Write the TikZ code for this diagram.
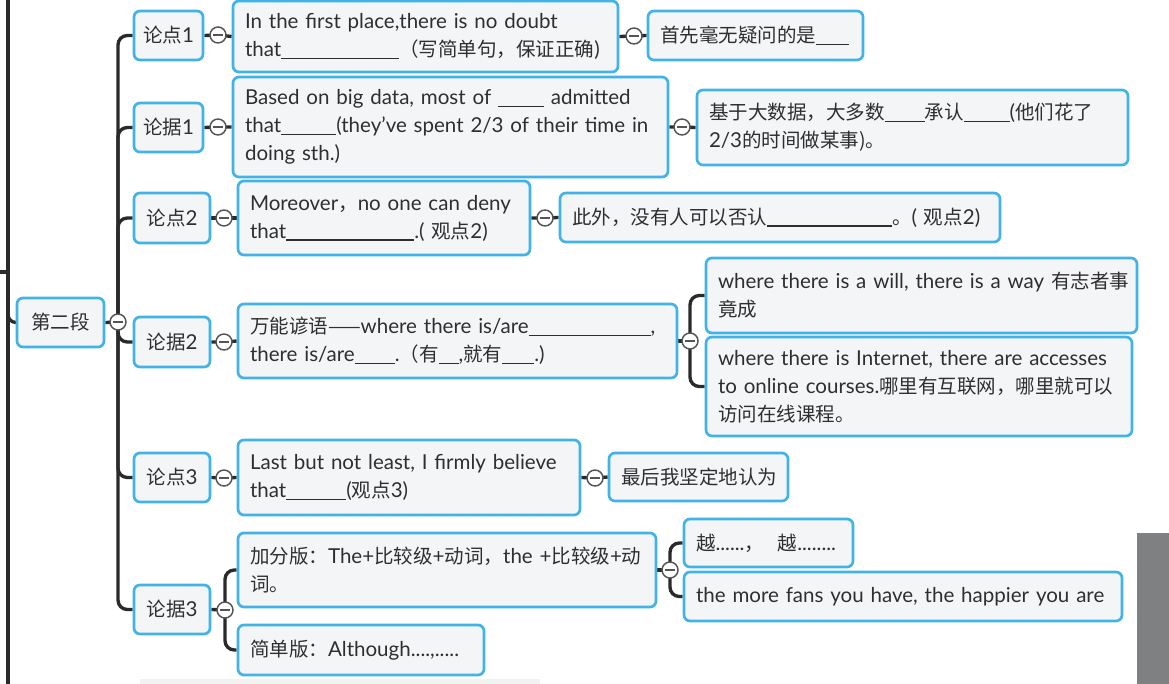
\documentclass[tikz,border=0pt]{standalone}
\usepackage{fontspec}
\setmainfont{Lato}
\newfontfamily\cjk[Scale=0.95]{Noto Sans CJK SC}
\newcommand\zh[1]{{\cjk #1}}
\newcommand\lin[1]{\mbox{#1}}
\newdimen\px \px=0.75pt
\newcommand\bl[1]{\rule[-0.12em]{#1}{0.07em}}
\definecolor{bblue}{HTML}{41B3E6}
\definecolor{bfill}{HTML}{F4F5F7}
\definecolor{tcol}{HTML}{2F2F2F}
\definecolor{lcol}{HTML}{2A2A2A}
\definecolor{ccol}{HTML}{555555}
\definecolor{gblock}{HTML}{7F8081}
\pgfdeclarelayer{back}
\pgfdeclarelayer{bg}
\pgfsetlayers{back,bg,main}
\newcommand\bx[6]{%
 \pgfmathsetlengthmacro\bw{(#4-#2)*0.75pt}%
 \pgfmathsetlengthmacro\bh{(#5-#3)*0.75pt}%
 \pgfmathsetlengthmacro\tw{(#4-#2-24)*0.75pt}%
 \node[box,minimum width=\bw,minimum height=\bh,text width=\tw] (#1) at ({(#2+#4)/2},{(#3+#5)/2}) {#6};}
\newcommand\sbx[6]{%
 \pgfmathsetlengthmacro\bw{(#4-#2)*0.75pt}%
 \pgfmathsetlengthmacro\bh{(#5-#3)*0.75pt}%
 \node[box,align=center,inner xsep=2pt,minimum width=\bw,minimum height=\bh] (#1) at ({(#2+#4)/2},{(#3+#5)/2}) {#6};}
\begin{document}
\begin{tikzpicture}[x=0.75pt,y=-0.75pt,
 box/.style={draw=bblue, fill=bfill, line width=2pt, rounded corners=4.5pt, inner xsep=9pt, inner ysep=1pt, text=tcol, font=\fontsize{15.4}{21}\selectfont, align=left},
 conn/.style={draw=lcol, line width=2.5pt},
 coll/.style={circle, draw=ccol, fill=white, line width=1.1pt, minimum size=12pt, inner sep=0pt,
   path picture={\draw[ccol,line width=1pt] ([xshift=-3.4pt]path picture bounding box.center) -- ([xshift=3.4pt]path picture bounding box.center);}},
]
\begin{pgfonlayer}{back}
\fill[white] (0,0) rectangle (1169,684);
\end{pgfonlayer}
\useasboundingbox (0,0) rectangle (1169,684);

% left spine
\coordinate (lt) at (8,0);
\coordinate (lb) at (8,684);
\coordinate (ls) at (0,272);
\coordinate (lj) at (8,272);
\coordinate (lc) at (8,300);

% level 1
\sbx{dier}{17}{298}{104}{347}{\zh{第二段}}
\sbx{lp1}{134}{11}{203}{60}{\zh{论点}1}
\sbx{lj1}{134}{103}{203}{152}{\zh{论据}1}
\sbx{lp2}{134}{193}{210}{243}{\zh{论点}2}
\sbx{lj2}{134}{317}{210}{367}{\zh{论据}2}
\sbx{lp3}{134}{453}{210}{502}{\zh{论点}3}
\sbx{lj3}{134}{585}{210}{634}{\zh{论据}3}

% level 2 and 3
\bx{a1}{233}{1}{618}{72}{\lin{In the first place,there is no doubt}\\ \lin{that\bl{118\px}\zh{（写简单句，保证正确}) }}
\bx{b1}{648}{11}{863}{60}{\zh{首先毫无疑问的是}\bl{33\px}}
\bx{a2}{233}{77}{668}{177}{\lin{Based on big data, most of \bl{46\px} admitted}\\ \lin{that\bl{55\px}(they've spent 2/3 of their time in}\\ doing sth.)}
\bx{b2}{697}{90}{1128}{165}{\lin{\zh{基于大数据，大多数}\bl{40\px}\zh{承认}\bl{46\px}(\zh{他们花了}}\\ 2/3\zh{的时间做某事)。}}
\bx{a3}{238}{181}{530}{255}{\lin{Moreover\zh{，}no one can deny}\\ \lin{that\bl{128\px}.( \zh{观点}2)}}
\bx{b3}{560}{193}{1000}{242}{\lin{\zh{此外，没有人可以否认}\bl{125\px}\zh{。}( \zh{观点}2)}}
\bx{a4}{238}{304}{677}{378}{\lin{\zh{万能谚语——}where there is/are\bl{122\px},}\\ \lin{there is/are\bl{40\px}.\zh{（有}\bl{20\px},\zh{就有}\bl{32\px}.)}}
\bx{c1}{706}{258}{1137}{333}{\lin{where there is a will, there is a way \zh{有志者事}}\\ \zh{竟成}}
\bx{c2}{706}{337}{1132}{436}{\lin{where there is Internet, there are accesses}\\ \lin{to online courses.\zh{哪里有互联网，哪里就可以}}\\ \zh{访问在线课程。}}
\bx{a5}{238}{440}{580}{515}{\lin{Last but not least, I firmly believe}\\ \lin{that\bl{60\px}(\zh{观点}3)}}
\bx{b5}{609}{453}{788}{501}{\zh{最后我坚定地认为}}
\bx{a6}{238}{533}{656}{607}{\lin{\zh{加分版：}The+\zh{比较级}+\zh{动词，}the +\zh{比较级}+\zh{动}}\\ \zh{词。}}
\bx{a7}{238}{625}{484}{675}{\lin{\zh{简单版：}Although....,.....}}
\bx{d1}{684}{519}{853}{567}{\lin{\zh{越}......\zh{，}\ \ \zh{越}........}}
\bx{d2}{684}{572}{1122}{621}{\lin{the more fans you have, the happier you are}}

% collapse buttons
\node[coll] (k0) at (118,322) {};
\node[coll] (k1) at (218,35) {};
\node[coll] (k2) at (218,127) {};
\node[coll] (k3) at (224,218) {};
\node[coll] (k4) at (224,342) {};
\node[coll] (k5) at (224,478) {};
\node[coll] (k6) at (225,610) {};
\node[coll] (m1) at (634,36) {};
\node[coll] (m2) at (682,127) {};
\node[coll] (m3) at (545,218) {};
\node[coll] (m4) at (690,341) {};
\node[coll] (m5) at (595,478) {};
\node[coll] (m6) at (670,570) {};

% side artefacts
\fill[gblock] (1137,533) rectangle (1169,684);
\fill[black!5] (140,679) rectangle (540,684);

\begin{pgfonlayer}{bg}
\draw[conn] (lt) -- (lb);
\draw[conn] (ls) -- (lj);
\draw[conn,rounded corners=6pt] (lc) |- (dier.west);
\draw[conn] (dier.east) -- (k0.center);
\foreach \n in {lp1,lj1,lp2,lj2,lp3,lj3}
  \draw[conn,rounded corners=7pt] (k0.center) |- (\n.west);
\draw[conn] (lp1.east) -- (k1.center) -- (a1.west);
\draw[conn] (lj1.east) -- (k2.center) -- (a2.west);
\draw[conn] (lp2.east) -- (k3.center) -- (a3.west);
\draw[conn] (lj2.east) -- (k4.center) -- (a4.west);
\draw[conn] (lp3.east) -- (k5.center) -- (a5.west);
\draw[conn] (lj3.east) -- (k6.center);
\draw[conn,rounded corners=7pt] (k6.center) |- (a6.west);
\draw[conn,rounded corners=7pt] (k6.center) |- (a7.west);
\draw[conn] (a1.east) -- (m1.center) -- (b1.west);
\draw[conn] (a2.east) -- (m2.center) -- (b2.west);
\draw[conn] (a3.east) -- (m3.center) -- (b3.west);
\draw[conn] (a4.east) -- (m4.center);
\draw[conn,rounded corners=7pt] (m4.center) |- (c1.west);
\draw[conn,rounded corners=7pt] (m4.center) |- (c2.west);
\draw[conn] (a5.east) -- (m5.center) -- (b5.west);
\draw[conn] (a6.east) -- (m6.center);
\draw[conn,rounded corners=7pt] (m6.center) |- (d1.west);
\draw[conn,rounded corners=7pt] (m6.center) |- (d2.west);
\end{pgfonlayer}
\end{tikzpicture}
\end{document}
